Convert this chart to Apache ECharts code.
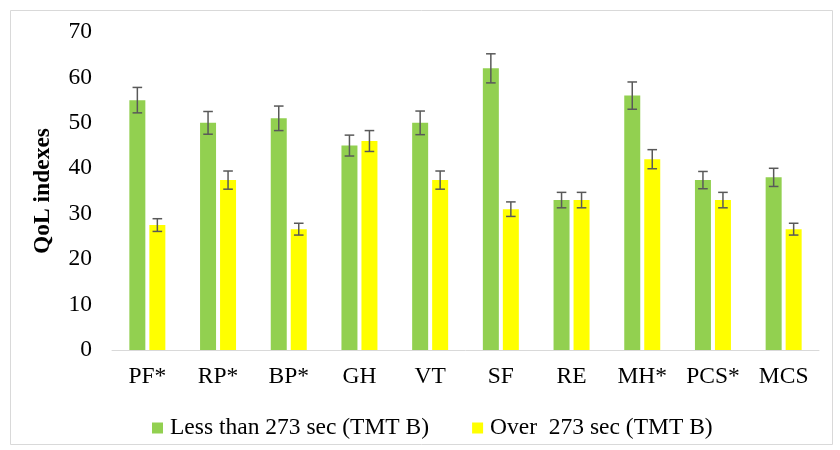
<!DOCTYPE html>
<html><head><meta charset="utf-8">
<script src="https://cdn.jsdelivr.net/npm/echarts@6/dist/echarts.min.js"></script>
<style>html,body{margin:0;padding:0;background:#fff}#c{width:840px;height:450px}</style>
</head><body><div id="c"></div>
<script>
const categories = ['PF*','RP*','BP*','GH','VT','SF','RE','MH*','PCS*','MCS'];
const lessMeans = [55.0, 50.0, 51.0, 45.0, 50.0, 62.0, 33.0, 56.0, 37.4, 38.0];
const lessErr   = [2.8, 2.5, 2.7, 2.3, 2.6, 3.2, 1.7, 3.0, 1.9, 2.0];
const overMeans = [27.5, 37.4, 26.6, 46.0, 37.4, 31.0, 33.0, 42.0, 33.0, 26.6];
const overErr   = [1.4, 2.0, 1.3, 2.3, 2.0, 1.6, 1.7, 2.1, 1.7, 1.3];
const yTicks = [0, 10, 20, 30, 40, 50, 60, 70];
const seriesNames = ['Less than 273 sec (TMT B)', 'Over  273 sec (TMT B)'];

const FONT = '"Liberation Serif", "Times New Roman", serif';
const FS = 23.5;
const BAR_W = 16, BAR_GAP = 4;

function errSeries(means, errs, offset) {
  return {
    type: 'custom',
    silent: true,
    z: 10,
    renderItem: function (params, api) {
      const i = api.value(0);
      const hi = api.coord([i, api.value(1)]);
      const lo = api.coord([i, api.value(2)]);
      const x = hi[0] + offset;
      const cap = 4.8;
      const st = { stroke: '#595959', lineWidth: 1.5 };
      return { type: 'group', children: [
        { type: 'line', shape: { x1: x, y1: hi[1], x2: x, y2: lo[1] }, style: st },
        { type: 'line', shape: { x1: x - cap, y1: hi[1], x2: x + cap, y2: hi[1] }, style: st },
        { type: 'line', shape: { x1: x - cap, y1: lo[1], x2: x + cap, y2: lo[1] }, style: st }
      ]};
    },
    data: means.map((m, i) => [i, m + errs[i], m - errs[i]])
  };
}

const chart = echarts.init(document.getElementById('c'));
chart.setOption({
  animation: false,
  backgroundColor: '#fff',
  graphic: [{ type: 'rect', shape: { x: 10.5, y: 10.5, width: 822, height: 434 },
    style: { fill: 'none', stroke: '#d9d9d9', lineWidth: 1 }, silent: true, z: -1 }],
  grid: { left: 112, right: 21, top: 32, bottom: 100 },
  legend: {
    top: 411, left: 147,
    itemWidth: 11, itemHeight: 11, itemGap: 43,
    icon: 'rect',
    textStyle: { fontFamily: FONT, fontSize: FS, color: '#000', padding: [0, 0, 0, 2] },
    data: seriesNames
  },
  xAxis: {
    type: 'category', data: categories,
    axisLine: { lineStyle: { color: '#d9d9d9', width: 1 } },
    axisTick: { show: false },
    axisLabel: { fontFamily: FONT, fontSize: FS, color: '#000', margin: 15 }
  },
  yAxis: {
    type: 'value', min: yTicks[0], max: yTicks[yTicks.length - 1], interval: 10,
    name: 'QoL indexes', nameLocation: 'middle', nameGap: 57,
    nameTextStyle: { fontFamily: FONT, fontSize: FS, fontWeight: 'bold', color: '#000' },
    axisLine: { show: false }, axisTick: { show: false },
    splitLine: { show: false },
    axisLabel: { fontFamily: FONT, fontSize: FS, color: '#000', margin: 20 }
  },
  series: [
    { name: seriesNames[0], type: 'bar', data: lessMeans, barWidth: BAR_W, barGap: '25%',
      itemStyle: { color: '#92d050' } },
    { name: seriesNames[1], type: 'bar', data: overMeans, barWidth: BAR_W,
      itemStyle: { color: '#ffff00' } },
    errSeries(lessMeans, lessErr, -(BAR_W + BAR_GAP) / 2),
    errSeries(overMeans, overErr, (BAR_W + BAR_GAP) / 2)
  ]
});
</script></body></html>
